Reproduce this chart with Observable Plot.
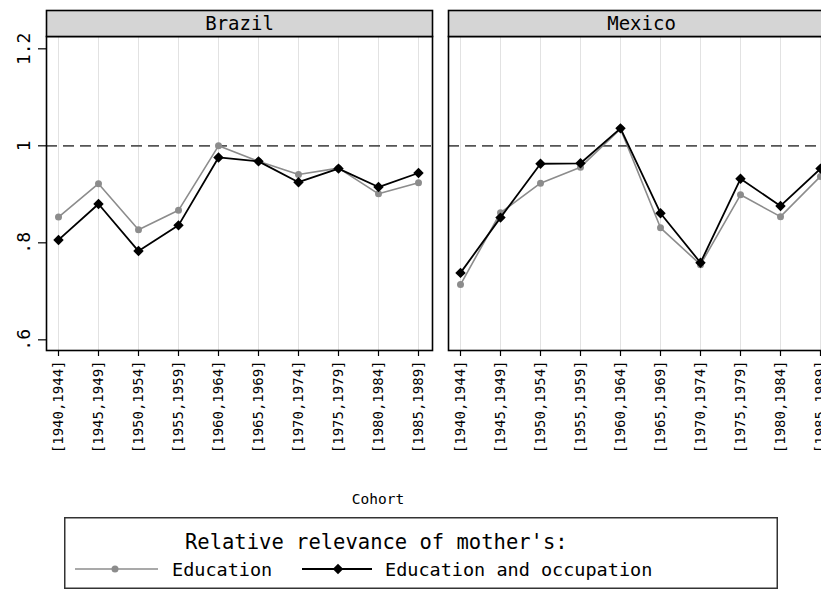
<!DOCTYPE html>
<html><head><meta charset="utf-8">
<script src="https://cdn.jsdelivr.net/npm/d3@7"></script>
<script src="https://cdn.jsdelivr.net/npm/@observablehq/plot@0.6"></script>
<style>
html,body{margin:0;padding:0;background:#fff;}
body{overflow:hidden;width:821px;height:589px;position:relative;font-family:"DejaVu Sans Mono",monospace;color:#000;}
#chart{position:absolute;left:0;top:0;width:836px;}
#chart svg{max-width:none !important;width:836px !important;height:475px !important;}
#xlabel{position:absolute;left:0;width:756px;top:490px;text-align:center;font-size:14.5px;line-height:18px;}
#legend{position:absolute;left:64px;top:517px;}
</style></head><body>
<div id="chart"></div>
<div id="xlabel"></div>
<div id="legend"></div>
<script>
// ---- data ----
const countries = ["Brazil", "Mexico"];
const cohorts = ["[1940,1944]","[1945,1949]","[1950,1954]","[1955,1959]","[1960,1964]",
                 "[1965,1969]","[1970,1974]","[1975,1979]","[1980,1984]","[1985,1989]"];
const seriesNames = ["Education", "Education and occupation"];
const brazilEducation = [0.853, 0.922, 0.827, 0.867, 1.000, 0.968, 0.941, 0.954, 0.901, 0.924];
const brazilEduOcc    = [0.806, 0.880, 0.783, 0.836, 0.976, 0.968, 0.925, 0.953, 0.915, 0.944];
const mexicoEducation = [0.714, 0.862, 0.923, 0.956, 1.035, 0.831, 0.755, 0.899, 0.854, 0.937];
const mexicoEduOcc    = [0.738, 0.852, 0.963, 0.964, 1.036, 0.861, 0.759, 0.932, 0.876, 0.953];
const yTicks = [0.6, 0.8, 1, 1.2];
const yTickLabels = [".6", ".8", "1", "1.2"];
const referenceLine = [1];
const xTitle = "Cohort";
const legendTitle = "Relative relevance of mother's:";

// ---- table ----
const valuesBy = {
  Brazil: [brazilEducation, brazilEduOcc],
  Mexico: [mexicoEducation, mexicoEduOcc]
};
const rows = [];
countries.forEach(c => {
  seriesNames.forEach((s, si) => {
    cohorts.forEach((k, i) => rows.push({country: c, series: s, cohort: k, value: valuesBy[c][si][i]}));
  });
});
const eduRows = rows.filter(d => d.series === seriesNames[0]);
const occRows = rows.filter(d => d.series === seriesNames[1]);

const GRAY = "#8c8c8c";
const W = 836, H = 475, mT = 36, mB = 125, mL = 45, mR = 2;

const chart = Plot.plot({
  width: W, height: H,
  marginTop: mT, marginBottom: mB, marginLeft: mL, marginRight: mR,
  style: {fontFamily: "DejaVu Sans Mono, monospace", background: "white", color: "black", maxWidth: "none"},
  fx: {domain: countries, paddingInner: 0.04, paddingOuter: 0, axis: null, label: null},
  x: {domain: cohorts, type: "point", padding: 0.31, align: 0.47, label: null},
  y: {domain: [0.578, 1.2254], label: null},
  marks: [
    Plot.gridX(cohorts, {stroke: "#e2e2e2", strokeOpacity: 1, strokeWidth: 1}),
    Plot.ruleY(referenceLine, {stroke: "#555", strokeWidth: 1.8, strokeDasharray: "11,6"}),
    Plot.line(eduRows, {fx: "country", x: "cohort", y: "value", stroke: GRAY, strokeWidth: 1.6}),
    Plot.dot(eduRows, {fx: "country", x: "cohort", y: "value", fill: GRAY, r: 3.5, symbol: "circle"}),
    Plot.line(occRows, {fx: "country", x: "cohort", y: "value", stroke: "black", strokeWidth: 1.8}),
    Plot.dot(occRows, {fx: "country", x: "cohort", y: "value", fill: "black", r: 4.7, symbol: "diamond2"}),
    Plot.axisX({ticks: cohorts, tickRotate: -90, tickSize: 6, tickPadding: 4, fontSize: 14, stroke: "black", strokeWidth: 1.2}),
    Plot.axisY({ticks: yTicks, tickFormat: d => yTickLabels[yTicks.indexOf(d)], tickRotate: -90, tickSize: 8, tickPadding: 9, fontSize: 18, anchor: "left", strokeWidth: 1.2}),
    Plot.frame({stroke: "black", strokeWidth: 1.6}),
    Plot.frame({fill: "#d5d5d5", stroke: "black", strokeWidth: 1.6, insetTop: -26, insetBottom: H - mT - mB}),
    Plot.text(countries, {fx: d => d, text: d => d, frameAnchor: "top", lineAnchor: "middle", dy: -13, fontSize: 19, fill: "black"})
  ]
});
document.getElementById("chart").append(chart);
document.getElementById("xlabel").textContent = xTitle;

// ---- legend ----
const LW = 714, LH = 72;
const lg = d3.select("#legend").append("svg").attr("width", LW).attr("height", LH)
  .style("font-family", "DejaVu Sans Mono, monospace");
lg.append("rect").attr("x", 0.75).attr("y", 0.75).attr("width", LW - 1.5).attr("height", LH - 1.5)
  .attr("fill", "white").attr("stroke", "#333").attr("stroke-width", 1.5);
lg.append("text").attr("x", 121).attr("y", 31.5).attr("font-size", 20.5).text(legendTitle);
const items = [
  {name: seriesNames[0], x1: 11, x2: 94, mx: 51, tx: 108, color: GRAY, w: 1.6, sym: "circle"},
  {name: seriesNames[1], x1: 238, x2: 308, mx: 274, tx: 321, color: "black", w: 1.8, sym: "diamond"}
];
const rowY = 52;
items.forEach(it => {
  lg.append("line").attr("x1", it.x1).attr("x2", it.x2).attr("y1", rowY).attr("y2", rowY)
    .attr("stroke", it.color).attr("stroke-width", it.w);
  if (it.sym === "circle") {
    lg.append("circle").attr("cx", it.mx).attr("cy", rowY).attr("r", 3.5).attr("fill", it.color);
  } else {
    lg.append("path").attr("d", d3.symbol(d3.symbolDiamond2, Math.PI * 4.7 * 4.7)())
      .attr("transform", `translate(${it.mx},${rowY})`).attr("fill", it.color);
  }
  lg.append("text").attr("x", it.tx).attr("y", rowY + 6.5).attr("font-size", 18.5).text(it.name);
});
</script>
</body></html>
